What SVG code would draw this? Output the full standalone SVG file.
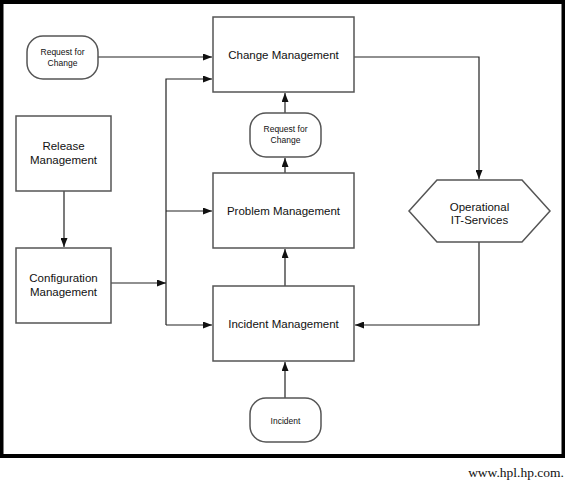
<svg xmlns="http://www.w3.org/2000/svg" width="565" height="481" viewBox="0 0 565 481">
<style>
.box{fill:#fff;stroke:#555;stroke-width:1.5}
.t{font-family:"Liberation Sans",Arial,sans-serif;font-size:11.5px;fill:#111;text-anchor:middle}
.s{font-family:"Liberation Sans",Arial,sans-serif;font-size:8.5px;fill:#111;text-anchor:middle}
.c{fill:none;stroke:#222;stroke-width:1.2}
</style>
<defs>
<marker id="a" markerWidth="9" markerHeight="7" refX="9" refY="3.5" orient="auto" markerUnits="userSpaceOnUse">
<path d="M0,0 L9,3.5 L0,7 Z" fill="#111"/>
</marker>
</defs>
<rect x="0" y="0" width="565" height="481" fill="#fff"/>
<rect x="1.5" y="2" width="562" height="454" fill="none" stroke="#000" stroke-width="4"/>
<g id="connectors">
<path class="c" d="M98,57 H212" marker-end="url(#a)"/>
<path class="c" d="M166,325 V79 H212" marker-end="url(#a)"/>
<path class="c" d="M166,211 H212" marker-end="url(#a)"/>
<path class="c" d="M166,325 H212" marker-end="url(#a)"/>
<path class="c" d="M111,283 H166" marker-end="url(#a)"/>
<path class="c" d="M64,191 V247" marker-end="url(#a)"/>
<path class="c" d="M285,113 V93" marker-end="url(#a)"/>
<path class="c" d="M285,173 V158" marker-end="url(#a)"/>
<path class="c" d="M285,286 V249" marker-end="url(#a)"/>
<path class="c" d="M285,398 V362" marker-end="url(#a)"/>
<path class="c" d="M354,57 H479 V179" marker-end="url(#a)"/>
<path class="c" d="M479,242 V325 H355" marker-end="url(#a)"/>
</g>
<g id="change">
<rect class="box" x="213" y="17" width="141" height="75"/>
<text class="t" x="283.5" y="59">Change Management</text>
</g>
<g id="rfc1">
<rect class="box" x="27" y="36" width="71" height="43" rx="16"/>
<text class="s" x="62.5" y="55">Request for</text>
<text class="s" x="62.5" y="65.5">Change</text>
</g>
<g id="release">
<rect class="box" x="16" y="116" width="95" height="75"/>
<text class="t" x="63.5" y="150">Release</text>
<text class="t" x="63.5" y="163.5">Management</text>
</g>
<g id="config">
<rect class="box" x="16" y="248" width="95" height="75"/>
<text class="t" x="63.5" y="282">Configuration</text>
<text class="t" x="63.5" y="296">Management</text>
</g>
<g id="rfc2">
<rect class="box" x="250" y="113" width="71" height="44" rx="16"/>
<text class="s" x="285.5" y="131.5">Request for</text>
<text class="s" x="285.5" y="143">Change</text>
</g>
<g id="problem">
<rect class="box" x="213" y="173" width="141" height="75"/>
<text class="t" x="283.5" y="214.5">Problem Management</text>
</g>
<g id="incidentmgmt">
<rect class="box" x="213" y="286" width="141" height="75"/>
<text class="t" x="283.5" y="327.5">Incident Management</text>
</g>
<g id="incident">
<rect class="box" x="250" y="398" width="71" height="44" rx="16"/>
<text class="s" x="285.5" y="424">Incident</text>
</g>
<g id="operational">
<polygon class="box" points="409,211 437,180 522,180 550,211 522,242 437,242"/>
<text class="t" x="479.5" y="211">Operational</text>
<text class="t" x="479.5" y="224">IT-Services</text>
</g>
<text x="564" y="477" font-family="'Liberation Serif','Times New Roman',serif" font-size="13.5px" fill="#111" text-anchor="end">www.hpl.hp.com.</text>
</svg>
